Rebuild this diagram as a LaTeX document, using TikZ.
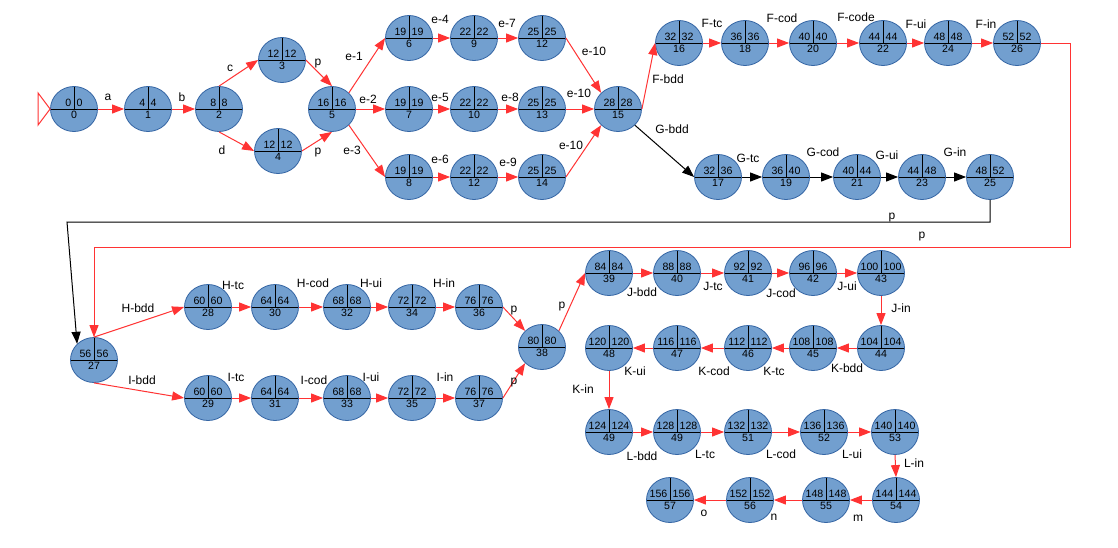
\documentclass[tikz,border=0pt]{standalone}
\usepackage{fontspec}
\setmainfont{Liberation Sans}
\usetikzlibrary{shapes.geometric,arrows.meta}

\definecolor{evfill}{RGB}{114,159,207}
\definecolor{evborder}{RGB}{52,101,164}
\definecolor{actred}{RGB}{255,51,51}

\tikzset{
  ev/.style = {draw = evborder, fill = evfill, shape = ellipse, line width = 0.8pt,
    minimum width = 47pt, minimum height = 45pt, inner sep = 0pt,
    path picture = {
      \draw[black, line width = 1pt] (path picture bounding box.west) -- (path picture bounding box.east);
      \draw[black, line width = 1pt] (path picture bounding box.north) -- (path picture bounding box.center);
    }},
  num/.style = {font = \fontsize{10.6}{12}\selectfont, inner sep = 0pt},
  lbl/.style = {font = \fontsize{12}{14}\selectfont, inner sep = 0pt},
  act/.style = {draw = actred, line width = 1pt, -{Triangle[length = 12pt, width = 9pt]}},
  dep/.style = {draw = black, line width = 1pt, -{Triangle[length = 12pt, width = 9pt]}},
}

\newcommand{\pertnode}[6]{%
  \node[ev] (#1) at (#2,#3) {};
  \node[num, anchor = base east] (#1-es) at ([xshift = -2.5pt, yshift = 2.5pt]#1.center) {#4};
  \node[num, anchor = base west] (#1-ls) at ([xshift = 2.5pt, yshift = 2.5pt]#1.center) {#5};
  \node[num, anchor = north] (#1-id) at ([yshift = -2pt]#1.center) {#6};
}

\begin{document}
\begin{tikzpicture}[x = 1pt, y = -1pt]

\path[fill = white, use as bounding box] (0,0) rectangle (1118,547);

\pertnode{v0}{74}{109}{0}{0}{0}
\pertnode{v1}{148}{109}{4}{4}{1}
\pertnode{v2}{219}{109}{8}{8}{2}
\pertnode{v3}{282}{60}{12}{12}{3}
\pertnode{v4}{278}{151}{12}{12}{4}
\pertnode{v5}{332}{109}{16}{16}{5}

\pertnode{v6}{409}{38}{19}{19}{6}
\pertnode{v9}{474}{38}{22}{22}{9}
\pertnode{v12}{542}{38}{25}{25}{12}
\pertnode{v7}{409}{109}{19}{19}{7}
\pertnode{v10}{474}{109}{22}{22}{10}
\pertnode{v13}{542}{109}{25}{25}{13}
\pertnode{v8}{409}{177}{19}{19}{8}
\pertnode{v12b}{474}{177}{22}{22}{12}
\pertnode{v14}{542}{177}{25}{25}{14}
\pertnode{v15}{618}{109}{28}{28}{15}

\pertnode{v16}{679}{43}{32}{32}{16}
\pertnode{v18}{745}{43}{36}{36}{18}
\pertnode{v20}{813}{43}{40}{40}{20}
\pertnode{v22}{883}{43}{44}{44}{22}
\pertnode{v24}{948}{43}{48}{48}{24}
\pertnode{v26}{1017}{43}{52}{52}{26}

\pertnode{v17}{718}{177}{32}{36}{17}
\pertnode{v19}{786}{177}{36}{40}{19}
\pertnode{v21}{857}{177}{40}{44}{21}
\pertnode{v23}{922}{177}{44}{48}{23}
\pertnode{v25}{990}{177}{48}{52}{25}

\pertnode{v27}{94}{360}{56}{56}{27}
\pertnode{v28}{208}{307}{60}{60}{28}
\pertnode{v30}{275}{307}{64}{64}{30}
\pertnode{v32}{347}{307}{68}{68}{32}
\pertnode{v34}{412}{307}{72}{72}{34}
\pertnode{v36}{479}{307}{76}{76}{36}
\pertnode{v29}{208}{398}{60}{60}{29}
\pertnode{v31}{275}{398}{64}{64}{31}
\pertnode{v33}{347}{398}{68}{68}{33}
\pertnode{v35}{412}{398}{72}{72}{35}
\pertnode{v37}{479}{398}{76}{76}{37}
\pertnode{v38}{542}{347}{80}{80}{38}

\pertnode{v39}{609}{273}{84}{84}{39}
\pertnode{v40}{677}{273}{88}{88}{40}
\pertnode{v41}{748}{273}{92}{92}{41}
\pertnode{v42}{813}{273}{96}{96}{42}
\pertnode{v43}{881}{273}{100}{100}{43}

\pertnode{v44}{881}{348}{104}{104}{44}
\pertnode{v45}{813}{348}{108}{108}{45}
\pertnode{v46}{748}{348}{112}{112}{46}
\pertnode{v47}{677}{348}{116}{116}{47}
\pertnode{v48}{609}{348}{120}{120}{48}

\pertnode{v49}{609}{432}{124}{124}{49}
\pertnode{v49b}{677}{432}{128}{128}{49}
\pertnode{v51}{748}{432}{132}{132}{51}
\pertnode{v52}{824}{432}{136}{136}{52}
\pertnode{v53}{895}{432}{140}{140}{53}

\pertnode{v54}{896}{500}{144}{144}{54}
\pertnode{v55}{826}{500}{148}{148}{55}
\pertnode{v56}{750}{500}{152}{152}{56}
\pertnode{v57}{670}{500}{156}{156}{57}

\coordinate (pk) at (67,222);
\coordinate (rq) at (1070,247);

\draw[draw = actred, line width = 1pt] (v0.west) -- ++(-12,-16) -- ++(0,32) -- cycle;

\path (v0.east) edge[act] (v1.west);
\path (v1.east) edge[act] (v2.west);
\path (v2.north) edge[act] (v3.west);
\path (v2.south) edge[act] (v4.west);
\path (v3.east) edge[act] (v5.north);
\path (v4.east) edge[act] (v5.south);

\path (v5.north east) edge[act] (v6.west);
\path (v5.east) edge[act] (v7.west);
\path (v5.south east) edge[act] (v8.west);
\path (v6.east) edge[act] (v9.west);
\path (v9.east) edge[act] (v12.west);
\path (v7.east) edge[act] (v10.west);
\path (v10.east) edge[act] (v13.west);
\path (v8.east) edge[act] (v12b.west);
\path (v12b.east) edge[act] (v14.west);
\path (v12.east) edge[act] (v15.north west);
\path (v13.east) edge[act] (v15.west);
\path (v14.east) edge[act] (v15.south west);

\path (v15.east) edge[act] (v16.west);
\path (v16.east) edge[act] (v18.west);
\path (v18.east) edge[act] (v20.west);
\path (v20.east) edge[act] (v22.west);
\path (v22.east) edge[act] (v24.west);
\path (v24.east) edge[act] (v26.west);

\path (v15.south east) edge[dep] (v17.west);
\path (v17.east) edge[dep] (v19.west);
\path (v19.east) edge[dep] (v21.west);
\path (v21.east) edge[dep] (v23.west);
\path (v23.east) edge[dep] (v25.west);

\draw[dep] (v25.south) |- (pk) -- (v27.north west);
\draw[act] (v26.east) -| (rq) -| (v27.north);

\path (v27.north) edge[act] (v28.west);
\path (v27.south) edge[act] (v29.west);
\path (v28.east) edge[act] (v30.west);
\path (v30.east) edge[act] (v32.west);
\path (v32.east) edge[act] (v34.west);
\path (v34.east) edge[act] (v36.west);
\path (v29.east) edge[act] (v31.west);
\path (v31.east) edge[act] (v33.west);
\path (v33.east) edge[act] (v35.west);
\path (v35.east) edge[act] (v37.west);
\path (v36.east) edge[act] (v38.north west);
\path (v37.east) edge[act] (v38.south west);
\path (v38.north east) edge[act] (v39.west);

\path (v39.east) edge[act] (v40.west);
\path (v40.east) edge[act] (v41.west);
\path (v41.east) edge[act] (v42.west);
\path (v42.east) edge[act] (v43.west);
\path (v43.south) edge[act] (v44.north);
\path (v44.west) edge[act] (v45.east);
\path (v45.west) edge[act] (v46.east);
\path (v46.west) edge[act] (v47.east);
\path (v47.west) edge[act] (v48.east);
\path (v48.south) edge[act] (v49.north);
\path (v49.east) edge[act] (v49b.west);
\path (v49b.east) edge[act] (v51.west);
\path (v51.east) edge[act] (v52.west);
\path (v52.east) edge[act] (v53.west);
\path (v53.south) edge[act] (v54.north);
\path (v54.west) edge[act] (v55.east);
\path (v55.west) edge[act] (v56.east);
\path (v56.west) edge[act] (v57.east);

\node[lbl] (l-a) at (108,97) {a};
\node[lbl] (l-b) at (182,97) {b};
\node[lbl] (l-c) at (230,68) {c};
\node[lbl] (l-d) at (222,150) {d};
\node[lbl] (l-p1) at (318,64) {p};
\node[lbl] (l-p2) at (318,153) {p};
\node[lbl] (l-e1) at (354,56) {e-1};
\node[lbl] (l-e2) at (368,99) {e-2};
\node[lbl] (l-e3) at (352,150) {e-3};
\node[lbl] (l-e4) at (440,19) {e-4};
\node[lbl] (l-e5) at (440,97) {e-5};
\node[lbl] (l-e6) at (440,159) {e-6};
\node[lbl] (l-e7) at (507,23) {e-7};
\node[lbl] (l-e8) at (510,97) {e-8};
\node[lbl] (l-e9) at (508,162) {e-9};
\node[lbl] (l-e10a) at (594,51) {e-10};
\node[lbl] (l-e10b) at (579,93) {e-10};
\node[lbl] (l-e10c) at (571,145) {e-10};

\node[lbl] (l-fbdd) at (668,79) {F-bdd};
\node[lbl] (l-ftc) at (712,23) {F-tc};
\node[lbl] (l-fcod) at (782,18) {F-cod};
\node[lbl] (l-fcode) at (856,17) {F-code};
\node[lbl] (l-fui) at (916,24) {F-ui};
\node[lbl] (l-fin) at (986,24) {F-in};
\node[lbl] (l-gbdd) at (672,129) {G-bdd};
\node[lbl] (l-gtc) at (748,158) {G-tc};
\node[lbl] (l-gcod) at (823,152) {G-cod};
\node[lbl] (l-gui) at (887,155) {G-ui};
\node[lbl] (l-gin) at (955,152) {G-in};
\node[lbl] (l-p3) at (892,218) {p};
\node[lbl] (l-p4) at (922,237) {p};

\node[lbl] (l-hbdd) at (138,308) {H-bdd};
\node[lbl] (l-htc) at (233,285) {H-tc};
\node[lbl] (l-hcod) at (313,283) {H-cod};
\node[lbl] (l-hui) at (371,283) {H-ui};
\node[lbl] (l-hin) at (444,283) {H-in};
\node[lbl] (l-ibdd) at (142,380) {I-bdd};
\node[lbl] (l-itc) at (236,377) {I-tc};
\node[lbl] (l-icod) at (314,380) {I-cod};
\node[lbl] (l-iui) at (371,377) {I-ui};
\node[lbl] (l-iin) at (445,377) {I-in};
\node[lbl] (l-p5) at (514,311) {p};
\node[lbl] (l-p6) at (514,383) {p};
\node[lbl] (l-p7) at (562,307) {p};

\node[lbl] (l-jbdd) at (642,292) {J-bdd};
\node[lbl] (l-jtc) at (713,286) {J-tc};
\node[lbl] (l-jcod) at (781,293) {J-cod};
\node[lbl] (l-jui) at (847,286) {J-ui};
\node[lbl] (l-jin) at (901,308) {J-in};
\node[lbl] (l-kbdd) at (847,368) {K-bdd};
\node[lbl] (l-ktc) at (774,371) {K-tc};
\node[lbl] (l-kcod) at (714,371) {K-cod};
\node[lbl] (l-kui) at (635,371) {K-ui};
\node[lbl] (l-kin) at (583,389) {K-in};
\node[lbl] (l-lbdd) at (642,456) {L-bdd};
\node[lbl] (l-ltc) at (705,454) {L-tc};
\node[lbl] (l-lcod) at (781,454) {L-cod};
\node[lbl] (l-lui) at (852,454) {L-ui};
\node[lbl] (l-lin) at (914,463) {L-in};
\node[lbl] (l-m) at (858,518) {m};
\node[lbl] (l-n) at (774,517) {n};
\node[lbl] (l-o) at (704,513) {o};

\end{tikzpicture}
\end{document}
